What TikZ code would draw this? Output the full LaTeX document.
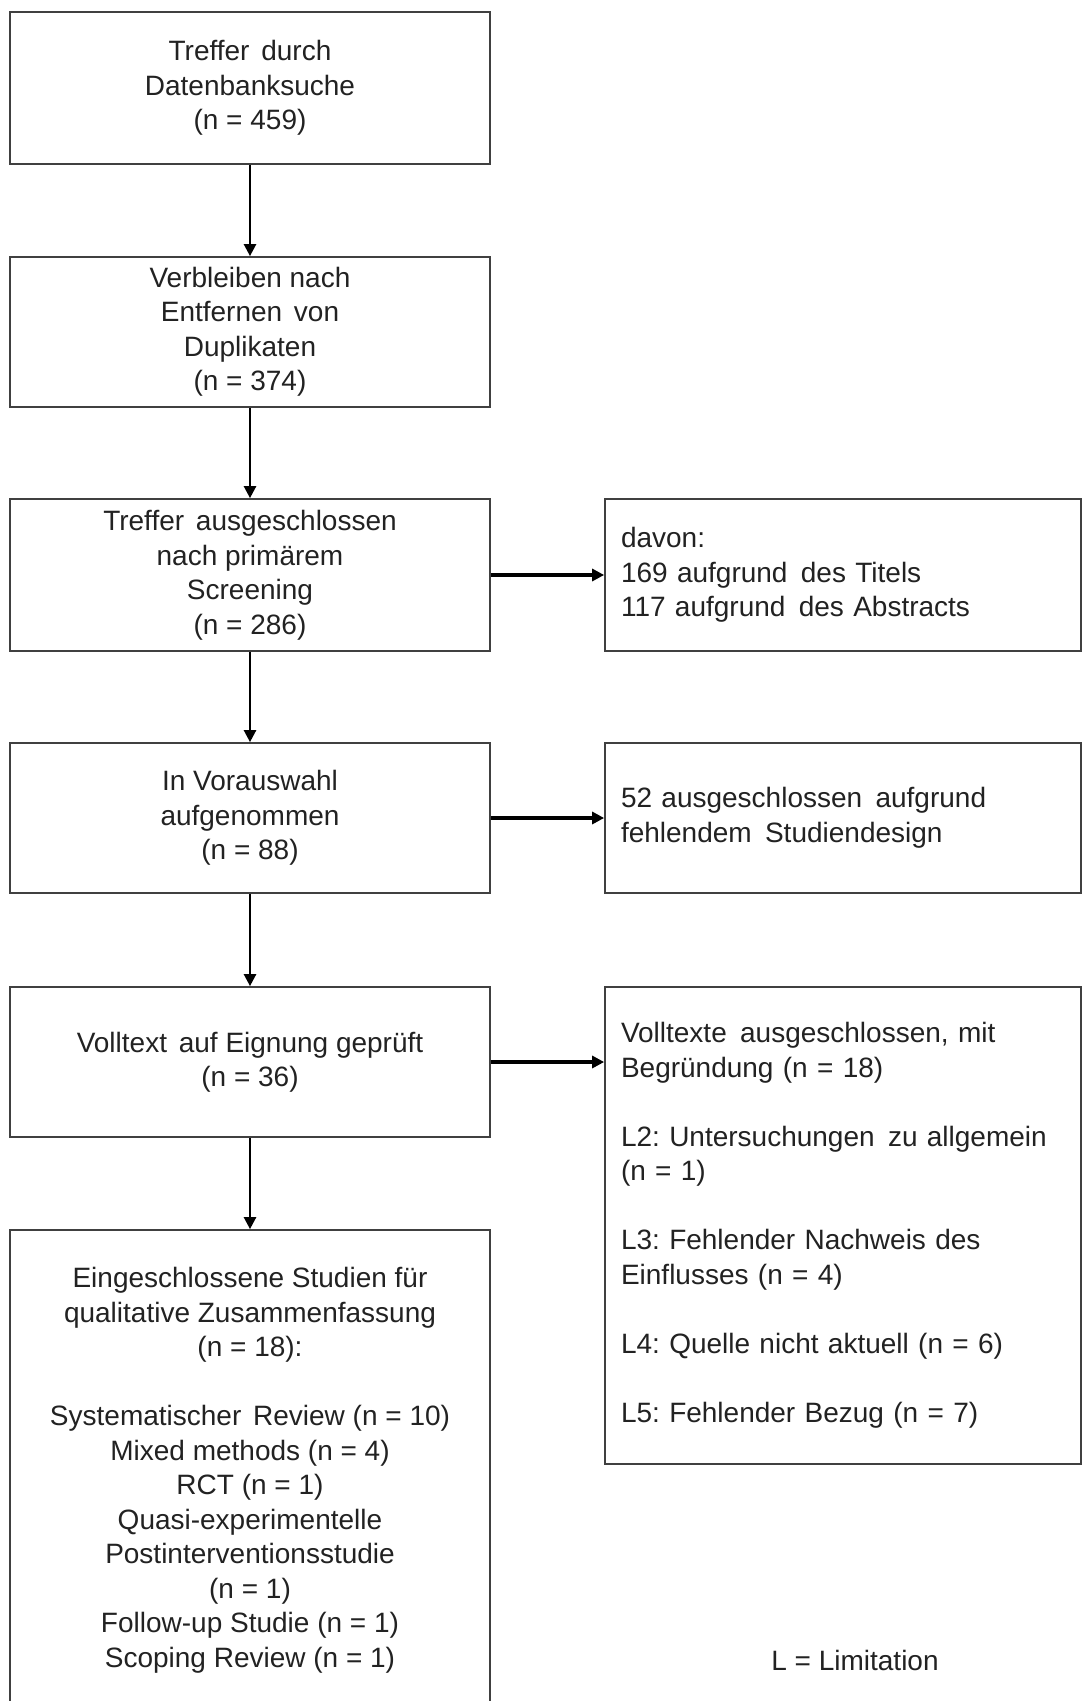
\documentclass[tikz,border=0pt]{standalone}
\usepackage{fontspec}
\setmainfont{Liberation Sans}
\usetikzlibrary{arrows.meta}
\definecolor{boxline}{HTML}{404040}
\definecolor{txt}{HTML}{222222}
\newcommand{\xsp}{\hspace{2pt}}
\begin{document}
\frenchspacing
\begin{tikzpicture}[x=0.5pt,y=-0.5pt,
  box/.style={draw=boxline, line width=0.85pt, rectangle, minimum width=240pt,
    align=center, font=\fontsize{14}{17.25}\selectfont, text=txt, inner sep=0pt},
  side/.style={draw=boxline, line width=0.85pt, rectangle, text width=222pt,
    align=left, inner xsep=8pt, inner ysep=0pt,
    font=\fontsize{14}{17.25}\selectfont, text=txt},
  flow/.style={-{Triangle[length=6pt,width=6pt]}, line width=1.2pt, black},
  branch/.style={flow, line width=1.7pt},
  plain/.style={font=\fontsize{14}{17.25}\selectfont, text=txt, inner sep=0pt}]
\clip (0,0) rectangle (1082,1701);
\fill[white] (0,0) rectangle (1082,1701);

\node[box, minimum height=76pt] (b1) at (250,88)
  {Treffer \xsp durch\\ Datenbanksuche\\ (n = 459)};
\node[box, minimum height=75pt] (b2) at (250,332)
  {Verbleiben nach\\ Entfernen \xsp von\\ Duplikaten\\ (n = 374)};
\node[box, minimum height=76pt] (b3) at (250,575)
  {Treffer \xsp ausgeschlossen\\ nach primärem\\ Screening\\ (n = 286)};
\node[box, minimum height=75pt] (b4) at (250,818)
  {In Vorauswahl\\ aufgenommen\\ (n = 88)};
\node[box, minimum height=75pt] (b5) at (250,1062)
  {Volltext \xsp auf Eignung geprüft\\ (n = 36)};
\node[box, minimum height=240pt] (b6) at (250,1470)
  {Eingeschlossene Studien für\\ qualitative Zusammenfassung\\ (n = 18):\\[17.25pt]
   Systematischer \xsp Review (n = 10)\\ Mixed methods (n = 4)\\ RCT (n = 1)\\
   Quasi-experimentelle\\ Postinterventionsstudie\\ (n = 1)\\
   Follow-up Studie (n = 1)\\ Scoping Review (n = 1)};

\node[side, minimum height=76pt] (r1) at (843,575)
  {davon:\\ 169 aufgrund \xsp des Titels\\ 117 aufgrund \xsp des Abstracts};
\node[side, minimum height=75pt] (r2) at (843,818)
  {52 ausgeschlossen \xsp aufgrund\\ fehlendem \xsp Studiendesign};
\node[side, minimum height=238.5pt] (r3) at (843,1225.5)
  {Volltexte \xsp ausgeschlossen, mit\\ Begründung (n = 18)\\[17.25pt]
   L2: Untersuchungen \xsp zu allgemein\\ (n = 1)\\[17.25pt]
   L3: Fehlender Nachweis des\\ Einflusses (n = 4)\\[17.25pt]
   L4: Quelle nicht aktuell (n = 6)\\[17.25pt]
   L5: Fehlender Bezug (n = 7)};

\node[plain] (legend) at (855,1660) {L = Limitation};

\draw[flow] (b1) -- (b2);
\draw[flow] (b2) -- (b3);
\draw[flow] (b3) -- (b4);
\draw[flow] (b4) -- (b5);
\draw[flow] (b5) -- (b6);
\draw[branch] (b3) -- (r1);
\draw[branch] (b4) -- (r2);
\draw[branch] (b5.east) -- (b5.east -| r3.west);
\end{tikzpicture}
\end{document}
